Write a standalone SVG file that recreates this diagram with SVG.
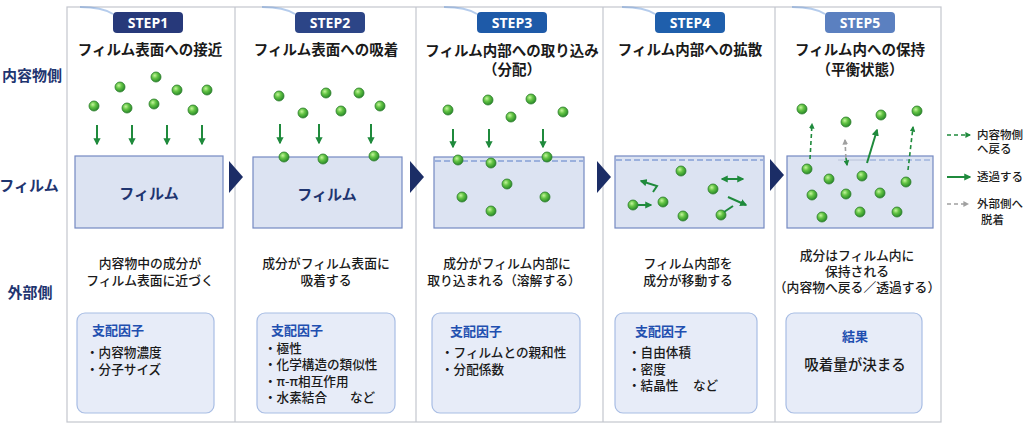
<svg xmlns="http://www.w3.org/2000/svg" width="1027" height="426" viewBox="0 0 1027 426">
<defs>
<radialGradient id="mol" cx="38%" cy="35%" r="65%">
<stop offset="0" stop-color="#c4f59c"/>
<stop offset="0.45" stop-color="#63c444"/>
<stop offset="1" stop-color="#2a8a2a"/>
</radialGradient>
<marker id="ag" viewBox="0 0 10 10" refX="8" refY="5" markerWidth="3.6" markerHeight="3.6" orient="auto-start-reverse"><path d="M0,0 L10,5 L0,10 z" fill="#1f8a3c"/></marker>
<marker id="ay" viewBox="0 0 10 10" refX="8" refY="5" markerWidth="3.6" markerHeight="3.6" orient="auto-start-reverse"><path d="M0,0 L10,5 L0,10 z" fill="#a0a0a0"/></marker>
<style>
.t{font-family:"Noto Sans CJK JP","Noto Sans",sans-serif;}
.row{font-size:15px;font-weight:700;fill:#1f3570;text-anchor:middle;}
.ttl{font-size:14.5px;font-weight:700;fill:#1a1a1a;text-anchor:middle;}
.badge-t{font-family:"Open Sans","Noto Sans",sans-serif;font-size:14px;font-weight:700;fill:#fff;text-anchor:middle;}
.film{fill:#dce3f2;stroke:#7489c2;stroke-width:1.2;}
.filmt{font-size:15px;font-weight:700;fill:#1f3570;text-anchor:middle;}
.desc{font-size:12.8px;font-weight:500;fill:#1a1a1a;text-anchor:middle;}
.box{fill:#e7ecf8;stroke:#a8bde4;stroke-width:1.2;}
.bh{font-size:13px;font-weight:700;fill:#1f4fb0;}
.bl{font-size:12.6px;font-weight:500;fill:#1a1a1a;}
.m{fill:url(#mol);stroke:#2c7d2c;stroke-width:0.8;}
.ar{stroke:#1f8a3c;stroke-width:2;fill:none;marker-end:url(#ag);}
.ard{stroke:#1f8a3c;stroke-width:1.6;fill:none;stroke-dasharray:4 3;marker-end:url(#ag);}
.ary{stroke:#a0a0a0;stroke-width:1.6;fill:none;stroke-dasharray:4 3;}
.dl{stroke:#5b7fc8;stroke-width:1;stroke-dasharray:6 3;fill:none;}
.div{stroke:#c3c6ce;stroke-width:1.2;fill:none;}
.chev{fill:#1b2d66;}
.sw{fill:none;stroke:#5a8fd4;stroke-width:2;opacity:0.45;}
.lg{font-size:11.5px;font-weight:500;fill:#1a1a1a;}
</style>
</defs>
<rect width="1027" height="426" fill="#fff"/>

<g id="frame">
<rect x="67" y="7" width="874" height="415" fill="#fff" class="div"/>
<line class="div" x1="235" y1="7" x2="235" y2="422"/>
<line class="div" x1="416" y1="7" x2="416" y2="422"/>
<line class="div" x1="603" y1="7" x2="603" y2="422"/>
<line class="div" x1="775" y1="7" x2="775" y2="422"/>
</g>

<g id="row-labels" class="t">
<text class="row" x="32" y="81">内容物側</text>
<text class="row" x="29" y="191">フィルム</text>
<text class="row" x="30" y="298">外部側</text>
</g>

<g id="chevrons">
<polygon class="chev" points="229,161 243,177 229,193"/>
<polygon class="chev" points="410,161 424,177 410,193"/>
<polygon class="chev" points="597,161 611,177 597,193"/>
<polygon class="chev" points="770,159 784,175 770,191"/>
</g>

<g id="step1" class="t">
<path class="sw" d="M80,7 Q102,7 113,14"/>
<rect x="113" y="12" width="70" height="21" rx="4" fill="#27397a"/>
<text class="badge-t" x="148" y="28">STEP1</text>
<text class="ttl" x="150" y="55">フィルム表面への接近</text>
<circle class="m" cx="156" cy="77" r="5"/>
<circle class="m" cx="120" cy="87" r="5"/>
<circle class="m" cx="177" cy="90" r="5"/>
<circle class="m" cx="207" cy="90" r="5"/>
<circle class="m" cx="94" cy="106" r="5"/>
<circle class="m" cx="127" cy="108" r="5"/>
<circle class="m" cx="154" cy="104" r="5"/>
<circle class="m" cx="193" cy="110" r="5"/>
<rect class="film" x="75" y="156" width="148" height="72"/>
<text class="filmt" x="149" y="199">フィルム</text>
<text class="desc" x="150" y="268">内容物中の成分が<tspan x="150" dy="17">フィルム表面に近づく</tspan></text>
<rect class="box" x="77" y="313" width="137" height="100" rx="8"/>
<text class="bh" x="92" y="335">支配因子</text>
<text class="bl" x="86" y="357">・内容物濃度<tspan x="86" dy="16.5">・分子サイズ</tspan></text>
</g>

<g id="step2" class="t">
<path class="sw" d="M262,7 Q284,7 295,14"/>
<rect x="295" y="12" width="70" height="21" rx="4" fill="#2c4587"/>
<text class="badge-t" x="330" y="28">STEP2</text>
<text class="ttl" x="326" y="55">フィルム表面への吸着</text>
<circle class="m" cx="279" cy="96" r="5"/>
<circle class="m" cx="326" cy="93" r="5"/>
<circle class="m" cx="359" cy="93" r="5"/>
<circle class="m" cx="303" cy="113" r="5"/>
<circle class="m" cx="341" cy="111" r="5"/>
<circle class="m" cx="380" cy="106" r="5"/>
<rect class="film" x="253" y="157" width="149" height="71"/>
<circle class="m" cx="284" cy="157" r="5"/>
<circle class="m" cx="323" cy="159" r="5"/>
<circle class="m" cx="374" cy="156" r="5"/>
<text class="filmt" x="327" y="200">フィルム</text>
<text class="desc" x="326" y="268">成分がフィルム表面に<tspan x="326" dy="17">吸着する</tspan></text>
<rect class="box" x="257" y="313" width="138" height="100" rx="8"/>
<text class="bh" x="271" y="335">支配因子</text>
<text class="bl" x="264" y="353">・極性<tspan x="264" dy="16.3">・化学構造の類似性</tspan><tspan x="264" dy="16.3">・π-π相互作用</tspan><tspan x="264" dy="16.3">・水素結合</tspan><tspan x="350">など</tspan></text>
</g>

<g id="step3" class="t">
<path class="sw" d="M444,7 Q466,7 477,14"/>
<rect x="477" y="12" width="70" height="21" rx="4" fill="#1e5aa8"/>
<text class="badge-t" x="512" y="28">STEP3</text>
<text class="ttl" x="512" y="56">フィルム内部への取り込み<tspan x="512" dy="19">（分配）</tspan></text>
<circle class="m" cx="448" cy="110" r="5"/>
<circle class="m" cx="488" cy="100" r="5"/>
<circle class="m" cx="531" cy="99" r="5"/>
<circle class="m" cx="511" cy="117" r="5"/>
<circle class="m" cx="563" cy="112" r="5"/>
<rect class="film" x="434" y="157" width="150" height="71"/>
<line class="dl" x1="435" y1="161" x2="583" y2="161"/>
<circle class="m" cx="458" cy="160" r="5"/>
<circle class="m" cx="491" cy="163" r="5"/>
<circle class="m" cx="547" cy="157" r="5"/>
<circle class="m" cx="507" cy="184" r="5"/>
<circle class="m" cx="462" cy="197" r="5"/>
<circle class="m" cx="545" cy="197" r="5"/>
<circle class="m" cx="491" cy="211" r="5"/>
<text class="desc" x="507" y="268">成分がフィルム内部に<tspan x="504" dy="17">取り込まれる（溶解する）</tspan></text>
<rect class="box" x="432" y="313" width="148" height="100" rx="8"/>
<text class="bh" x="450" y="336">支配因子</text>
<text class="bl" x="441" y="357">・フィルムとの親和性<tspan x="441" dy="16.5">・分配係数</tspan></text>
</g>

<g id="step4" class="t">
<path class="sw" d="M622,7 Q644,7 655,14"/>
<rect x="655" y="12" width="70" height="21" rx="4" fill="#1f5fac"/>
<text class="badge-t" x="690" y="28">STEP4</text>
<text class="ttl" x="690" y="55">フィルム内部への拡散</text>
<rect class="film" x="615" y="156" width="149" height="72"/>
<line class="dl" x1="616" y1="160" x2="763" y2="160"/>
<circle class="m" cx="681" cy="171" r="5"/>
<circle class="m" cx="713" cy="189" r="5"/>
<circle class="m" cx="663" cy="202" r="5"/>
<circle class="m" cx="633" cy="205" r="5"/>
<circle class="m" cx="683" cy="216" r="5"/>
<circle class="m" cx="721" cy="215" r="5"/>
<text class="desc" x="688" y="268">フィルム内部を<tspan x="688" dy="17">成分が移動する</tspan></text>
<rect class="box" x="615" y="313" width="142" height="100" rx="8"/>
<text class="bh" x="635" y="336">支配因子</text>
<text class="bl" x="628" y="357">・自由体積<tspan x="628" dy="16.5">・密度</tspan><tspan x="628" dy="16.5">・結晶性</tspan><tspan x="693">など</tspan></text>
</g>

<g id="step5" class="t">
<path class="sw" d="M792,7 Q814,7 825,14"/>
<rect x="825" y="12" width="70" height="21" rx="4" fill="#5b80c0"/>
<text class="badge-t" x="860" y="28">STEP5</text>
<text class="ttl" x="860" y="55">フィルム内への保持<tspan x="860" dy="20">（平衡状態）</tspan></text>
<circle class="m" cx="802" cy="109" r="5"/>
<circle class="m" cx="846" cy="122" r="5"/>
<circle class="m" cx="881" cy="115" r="5"/>
<circle class="m" cx="917" cy="111" r="5"/>
<rect class="film" x="787" y="156" width="146" height="72"/>
<line x1="838" y1="160" x2="870" y2="160" stroke="#b8c2d8" stroke-width="1"/>
<line class="dl" x1="870" y1="160" x2="932" y2="160" opacity="0.7"/>
<circle class="m" cx="807" cy="169" r="5"/>
<circle class="m" cx="829" cy="179" r="5"/>
<circle class="m" cx="862" cy="176" r="5"/>
<circle class="m" cx="906" cy="182" r="5"/>
<circle class="m" cx="812" cy="195" r="5"/>
<circle class="m" cx="846" cy="194" r="5"/>
<circle class="m" cx="880" cy="193" r="5"/>
<circle class="m" cx="822" cy="217" r="5"/>
<circle class="m" cx="860" cy="212" r="5"/>
<circle class="m" cx="897" cy="212" r="5"/>
<text class="desc" x="857" y="260">成分はフィルム内に<tspan x="857" dy="16">保持される</tspan><tspan x="857" dy="16">（内容物へ戻る／透過する）</tspan></text>
<rect class="box" x="786" y="313" width="136" height="100" rx="8"/>
<text class="bh" x="855" y="341" text-anchor="middle">結果</text>
<text class="t" x="855" y="370" text-anchor="middle" font-size="14.5" font-weight="500" fill="#1a1a1a">吸着量が決まる</text>
</g>

<g id="connectors">
<line class="ar" x1="97" y1="125" x2="97" y2="144"/>
<line class="ar" x1="132" y1="125" x2="132" y2="144"/>
<line class="ar" x1="167" y1="125" x2="167" y2="144"/>
<line class="ar" x1="202" y1="125" x2="202" y2="144"/>
<line class="ar" x1="280" y1="124" x2="280" y2="143"/>
<line class="ar" x1="319" y1="124" x2="319" y2="143"/>
<line class="ar" x1="371" y1="124" x2="371" y2="143"/>
<line class="ar" x1="453" y1="129" x2="453" y2="147"/>
<line class="ar" x1="489" y1="129" x2="489" y2="147"/>
<line class="ar" x1="543" y1="129" x2="543" y2="147"/>
<path class="ar" d="M653,192 L657,186 L641,181"/>
<line class="ar" x1="638" y1="205" x2="651" y2="205"/>
<line class="ar" x1="722" y1="179" x2="743" y2="179" marker-start="url(#ag)"/>
<line class="ar" x1="728" y1="197" x2="746" y2="205"/>
<line x1="724" y1="212" x2="733" y2="206" stroke="#1f8a3c" stroke-width="2"/>
<line class="ard" x1="810" y1="159" x2="812" y2="124"/>
<line class="ary" x1="845" y1="140" x2="846" y2="160" marker-start="url(#ay)"/>
<line x1="846" y1="158" x2="847" y2="165" stroke="#1f8a3c" stroke-width="1.6" marker-end="url(#ag)"/>
<line class="ar" x1="867" y1="163" x2="877" y2="130"/>
<line class="ard" x1="908" y1="170" x2="913" y2="127"/>
</g>

<g id="legend" class="t">
<line class="ard" x1="947" y1="135" x2="970" y2="135"/>
<text class="lg" x="977" y="139">内容物側<tspan x="977" dy="14">へ戻る</tspan></text>
<line class="ar" x1="947" y1="177" x2="970" y2="177"/>
<text class="lg" x="977" y="181">透過する</text>
<line class="ary" x1="947" y1="204" x2="968" y2="204" marker-end="url(#ay)"/>
<text class="lg" x="977" y="208">外部側へ<tspan x="981" dy="16">脱着</tspan></text>
</g>
</svg>
